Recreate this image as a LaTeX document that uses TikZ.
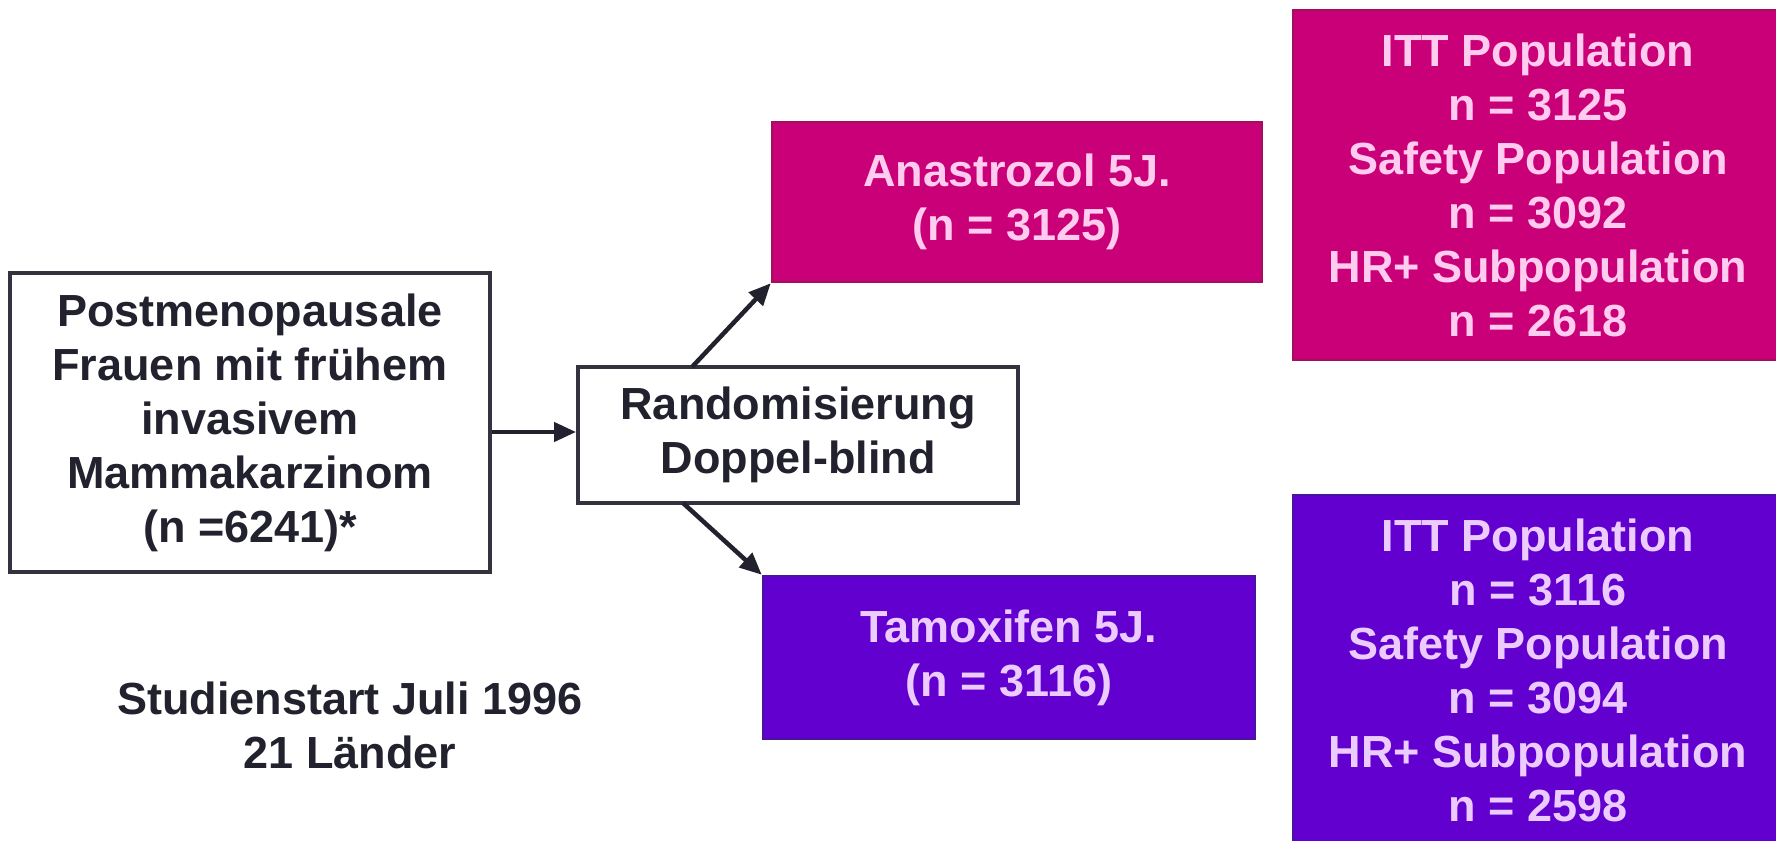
\documentclass[tikz,border=0pt]{standalone}
\usepackage{fontspec}
\setmainfont{Liberation Sans}
\usetikzlibrary{arrows.meta}
\definecolor{inkc}{HTML}{22222E}
\definecolor{edgec}{HTML}{33333F}
\definecolor{magc}{HTML}{CA0078}
\definecolor{magedge}{HTML}{A0105C}
\definecolor{magtext}{HTML}{FFCCF0}
\definecolor{purc}{HTML}{6200D0}
\definecolor{puredge}{HTML}{4A12A0}
\definecolor{purtext}{HTML}{ECCCFF}
\tikzset{
  txt/.style={font=\fontsize{45}{54}\selectfont\bfseries, align=center, inner sep=0pt},
  whitebox/.style={txt, draw=edgec, line width=4pt, fill=white, text=inkc},
  magbox/.style={txt, draw=magedge, line width=2.5pt, fill=magc, text=magtext},
  purbox/.style={txt, draw=puredge, line width=2.5pt, fill=purc, text=purtext},
  arr/.style={-{Triangle[length=22pt,width=19pt]}, line width=4.5pt, draw=inkc}
}
\begin{document}
\begin{tikzpicture}[x=1pt,y=-1pt]
\useasboundingbox (0,0) rectangle (1776,840);
\fill[white] (0,0) rectangle (1776,840);
\node[whitebox, minimum width=480pt, minimum height=299pt] (lb) at (250,422.5)
  {Postmenopausale\\Frauen mit frühem\\invasivem\\Mammakarzinom\\(n =6241)*};
\node[whitebox, minimum width=440pt, minimum height=136pt] (rb) at (798,435)
  {Randomisierung\\Doppel-blind};
\node[magbox, minimum width=490pt, minimum height=160pt] (an) at (1017,202)
  {Anastrozol 5J.\\(n = 3125)};
\node[purbox, minimum width=492pt, minimum height=163pt] (ta) at (1009,657.5)
  {Tamoxifen 5J.\\(n = 3116)};
\node[magbox, minimum width=490pt, minimum height=350pt] (ap) at (1538,185)
  {ITT Population\\n = 3125\\Safety Population\\n = 3092\\HR+ Subpopulation\\n = 2618};
\node[purbox, minimum width=490pt, minimum height=350pt] (tp) at (1538,670)
  {ITT Population\\n = 3116\\Safety Population\\n = 3094\\HR+ Subpopulation\\n = 2598};
\node[txt, text=inkc] (st) at (350,725) {Studienstart Juli 1996\\21 Länder};
\coordinate (upA) at (692,367);
\coordinate (dnA) at (683,503);
\draw[arr] (lb.east |- 0,432) -- (rb.west |- 0,432);
\draw[arr] (upA) -- (an.south west);
\draw[arr] (dnA) -- (ta.north west);
\end{tikzpicture}
\end{document}
